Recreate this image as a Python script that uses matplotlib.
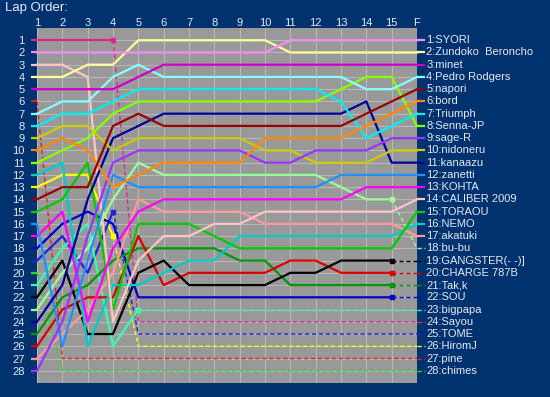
import matplotlib
matplotlib.use("Agg")
import matplotlib.pyplot as plt

plt.rcParams['font.family'] = ['Liberation Sans', 'DejaVu Sans']

# lap columns: 1..15 and the finish "F"
lap_labels = [str(i) for i in range(1, 16)] + ['F']
laps = list(range(1, 17))

# driver names in finishing order
names = ['SYORI', 'Zundoko  Beroncho', 'minet', 'Pedro Rodgers', 'napori', 'bord',
         'Triumph', 'Senna-JP', 'sage-R', 'nidoneru', 'kanaazu', 'zanetti', 'KOHTA',
         'CALIBER 2009', 'TORAOU', 'NEMO', 'akatuki', 'bu-bu', 'GANGSTER(- -)]',
         'CHARGE 787B', 'Tak,k', 'SOU', 'bigpapa', 'Sayou', 'TOME', 'HiromJ', 'pine', 'chimes']

colors = ['#F58CF5', '#FFFF99', '#CC00CC', '#88FFFF', '#990000', '#FF8800',
          '#00F0F0', '#88FF00', '#9933FF', '#CCCC00', '#000099', '#1E90FF', '#FF00FF',
          '#FFC4C4', '#00CC00', '#00CCCC', '#FF9999', '#99FF99', '#000000',
          '#DD0000', '#009900', '#0000CC', '#33FFAA', '#E0288C', '#2020DD', '#FFFF00',
          '#E02020', '#22DD22']

# position at each lap (1..15, F)
syori    = [2, 2, 2, 2, 2, 2, 2, 2, 2, 2, 1, 1, 1, 1, 1, 1]
zundoko  = [4, 4, 3, 3, 1, 1, 1, 1, 1, 1, 2, 2, 2, 2, 2, 2]
minet    = [5, 5, 5, 5, 4, 3, 3, 3, 3, 3, 3, 3, 3, 3, 3, 3]
pedro    = [7, 6, 6, 4, 3, 4, 4, 4, 4, 4, 4, 4, 4, 5, 5, 4]
napori   = [14, 13, 13, 8, 7, 8, 8, 8, 8, 8, 8, 8, 8, 7, 6, 5]
bord     = [10, 9, 10, 13, 12, 11, 11, 11, 11, 9, 9, 9, 9, 8, 7, 6]
triumph  = [8, 7, 7, 6, 5, 5, 5, 5, 5, 5, 5, 5, 6, 9, 8, 7]
senna    = [11, 10, 9, 7, 6, 6, 6, 6, 6, 6, 6, 6, 5, 4, 4, 8]
sage     = [28, 24, 17, 11, 10, 10, 10, 10, 10, 11, 11, 10, 10, 10, 9, 9]
nidoneru = [9, 8, 8, 10, 9, 9, 9, 9, 9, 10, 10, 11, 11, 11, 10, 10]
kanaazu  = [24, 21, 14, 9, 8, 7, 7, 7, 7, 7, 7, 7, 7, 6, 11, 11]
zanetti  = [16, 26, 19, 12, 13, 13, 13, 13, 13, 13, 13, 13, 12, 12, 12, 12]
kohta    = [17, 15, 24, 18, 15, 14, 14, 14, 14, 14, 14, 14, 14, 13, 13, 13]
caliber  = [3, 3, 4, 24, 19, 17, 17, 16, 16, 15, 15, 15, 15, 15, 15, 14]
toraou   = [15, 14, 11, 23, 16, 16, 16, 17, 18, 18, 18, 18, 18, 18, 18, 15]
nemo     = [12, 11, 26, 21, 21, 20, 19, 19, 17, 17, 17, 17, 17, 17, 17, 16]
akatuki  = [27, 25, 23, 20, 14, 15, 15, 15, 15, 16, 16, 16, 16, 16, 16, 17]
bubu     = [23, 20, 18, 14, 11, 12, 12, 12, 12, 12, 12, 12, 13, 14, 14, 18]
gangster = [22, 19, 25, 25, 20, 19, 21, 21, 21, 21, 20, 20, 19, 19, 19, 19]
charge   = [26, 23, 22, 22, 17, 21, 20, 20, 20, 20, 19, 19, 20, 20, 20, 20]
takk     = [25, 22, 21, 19, 18, 18, 18, 18, 19, 19, 21, 21, 21, 21, 21, 21]
sou      = [18, 16, 15, 16] + [22] * 12
bigpapa  = [21, 18, 16, 26] + [23] * 12
sayou    = [1, 1, 1, 1] + [24] * 12
tome     = [19, 17, 20, 15] + [25] * 12
hiromj   = [13, 12, 12, 17] + [26] * 12
pine     = [6] + [27] * 15
chimes   = [20] + [28] * 15

positions = [syori, zundoko, minet, pedro, napori, bord, triumph, senna, sage,
             nidoneru, kanaazu, zanetti, kohta, caliber, toraou, nemo, akatuki, bubu,
             gangster, charge, takk, sou, bigpapa, sayou, tome, hiromj, pine, chimes]

# last lap drawn as a solid line (16 = ran to the flag)
solid_until = [16] * 17 + [15, 15, 15, 15, 15, 5, 4, 4, 4, 1, 1]

fig = plt.figure(figsize=(5.5, 3.97), dpi=100, facecolor='#003270')
ax = fig.add_axes([37 / 550, 1 - 383 / 397, 380 / 550, 355 / 397])
ax.set_facecolor('#999999')
ax.set_xlim(1, 16)
ax.set_ylim(29, 0)

for x in laps:
    ax.axvline(x, color='#b8b8b8', lw=0.8, zorder=1)
for r in range(1, 29):
    ax.axhline(r, color='#b8b8b8', lw=0.8, zorder=1)

for s in ax.spines.values():
    s.set_visible(False)

ax.xaxis.tick_top()
ax.set_xticks(laps)
ax.set_xticklabels(lap_labels)
ax.set_yticks(range(1, 29))
ax.set_yticklabels([str(r) for r in range(1, 29)])
ax.tick_params(axis='x', length=0, pad=0, labelsize=8, labelcolor='#e8e8f0')
ax.tick_params(axis='y', length=0, pad=9, labelsize=8, labelcolor='#e8e8f0')

for i in reversed(range(len(names))):
    pos = positions[i]
    c = colors[i]
    n = solid_until[i]
    # start stub
    ax.plot([0.76, 1], [pos[0], pos[0]], color=c, lw=1.6, clip_on=False, zorder=3,
            solid_capstyle='butt')
    if n > 1:
        ax.plot(laps[:n], pos[:n], color=c, lw=1.6, zorder=3, clip_on=False)
    if n < 16:
        ax.plot(laps[n - 1:], pos[n - 1:], color=c, lw=1.0, ls=(0, (3, 2)), zorder=2)
        if n > 1:
            ax.plot(laps[n - 1], pos[n - 1], 's', color=c, ms=2.5, zorder=4)
        ax.plot([16, 16.3], [pos[-1], pos[-1]], color=c, lw=1.0, ls=(0, (3, 2)),
                clip_on=False)
    else:
        ax.plot([16, 16.3], [pos[-1], pos[-1]], color=c, lw=1.6, clip_on=False,
                solid_capstyle='butt')
    ax.text(16.36, pos[-1], f"{pos[-1]}:{names[i]}", fontsize=8, color='#e8e8f0',
            va='center', ha='left', clip_on=False)

fig.text(5 / 550, 1 - 8 / 397, 'Lap Order:', fontsize=9.5, color='#e8e8f0',
         va='center', ha='left')

fig.savefig('out.png', dpi=100, facecolor=fig.get_facecolor())
